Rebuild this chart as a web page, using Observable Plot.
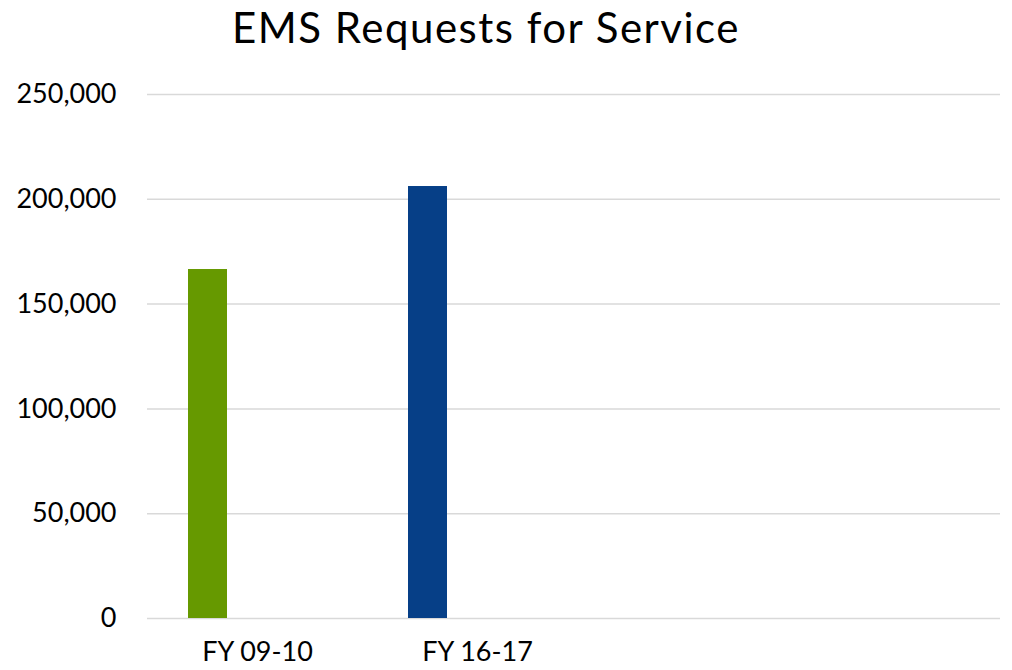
<!DOCTYPE html>
<html>
<head>
<meta charset="utf-8">
<script src="https://cdn.jsdelivr.net/npm/d3@7"></script>
<script src="https://cdn.jsdelivr.net/npm/@observablehq/plot@0.6"></script>
<style>
  html, body { margin: 0; padding: 0; background: #fff; }
  #wrap { width: 1012px; height: 670px; position: relative; font-family: Lato, "Open Sans", sans-serif; }
  #title { position: absolute; left: 0; top: 3px; width: 972px; text-align: center; font-size: 42px; letter-spacing: 1.5px; color: #000; line-height: 48px; }
  #chart { position: absolute; left: 0; top: 60px; }
</style>
</head>
<body>
<div id="wrap">
  <div id="title">EMS Requests for Service</div>
  <div id="chart"></div>
</div>
<script>
const categories = ["FY 09-10", "FY 16-17"];
const values = [166500, 206100];
const colors = ["#669900", "#063f87"];
const yTicks = [0, 50000, 100000, 150000, 200000, 250000];

const data = categories.map((c, i) => ({category: c, value: values[i], color: colors[i]}));

const plot = Plot.plot({
  width: 1012,
  height: 610,
  marginLeft: 147,
  marginRight: 12,
  marginTop: 34,
  marginBottom: 52,
  style: {fontFamily: "Lato, 'Open Sans', sans-serif", fontSize: "27px", color: "#000", background: "#fff", overflow: "visible"},
  x: {domain: categories, range: [147, 587], padding: 0, label: null, tickSize: 0, tickPadding: 23},
  y: {domain: [0, 250000], ticks: yTicks, label: null, tickSize: 0, tickPadding: 31, tickFormat: d3.format(",")},
  marks: [
    Plot.ruleY(yTicks, {stroke: "#d9d9d9", strokeWidth: 1.5, strokeOpacity: 1}),
    Plot.barY(data, {x: "category", y: "value", fill: "color", insetLeft: 41, insetRight: 140})
  ]
});
document.getElementById("chart").appendChild(plot);
</script>
</body>
</html>
